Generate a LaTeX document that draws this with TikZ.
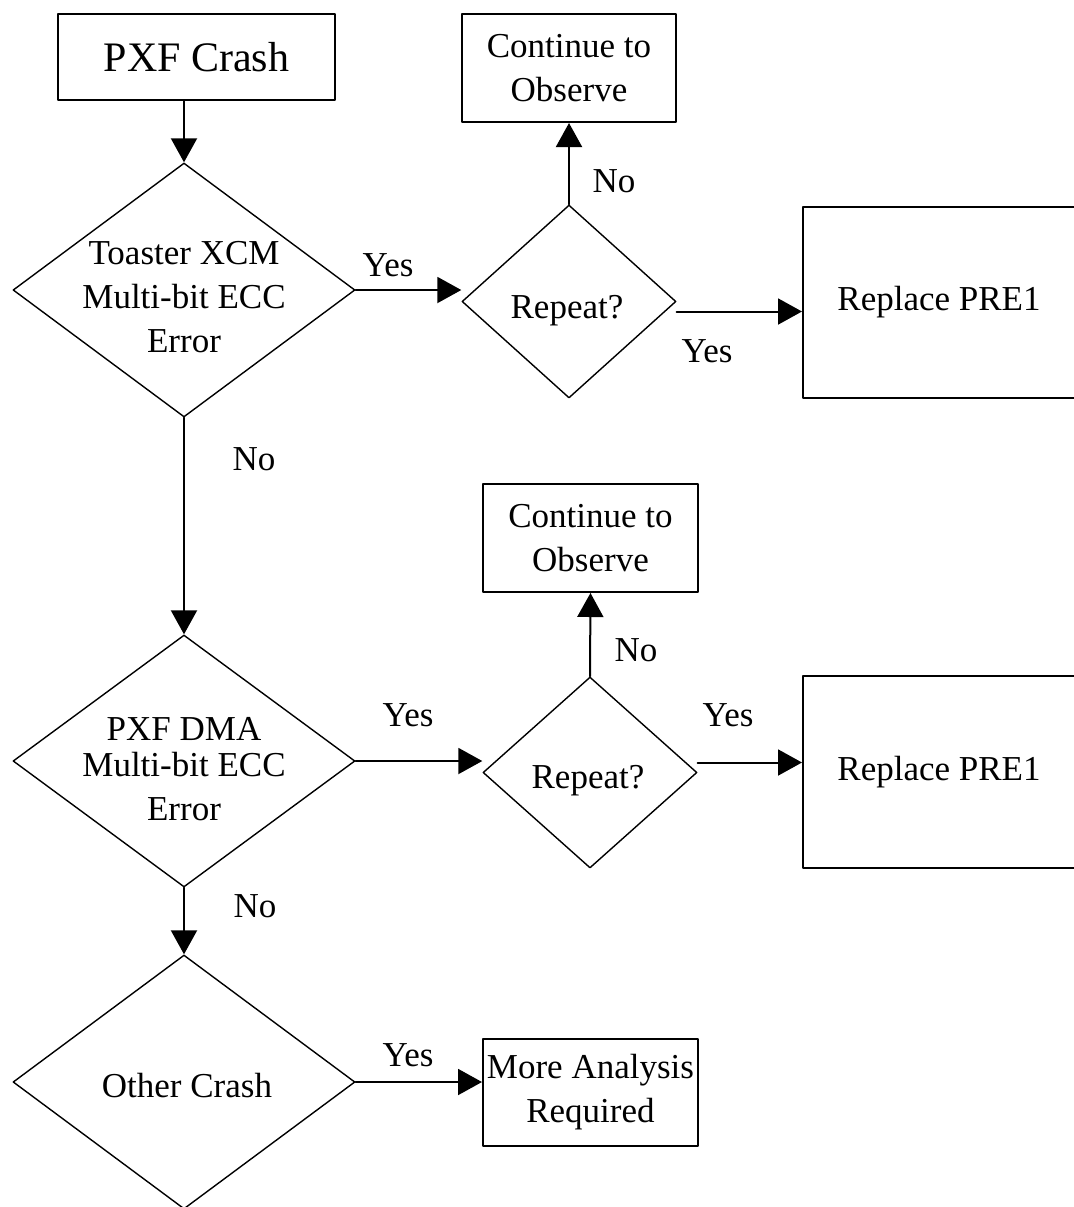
\documentclass[tikz,border=0pt]{standalone}
\usepackage{fontspec}
\setmainfont{Liberation Serif}
\usetikzlibrary{shapes.geometric,arrows.meta}

\begin{document}
\begin{tikzpicture}[x=0.5pt,y=-0.5pt, line join=round, line cap=round, >={Triangle[length=12pt,width=13pt]},
	font=\fontsize{17.5}{22}\selectfont,
	box/.style={draw,line width=1pt,inner sep=0pt,align=center},
	dia/.style={draw,diamond,line width=0.7pt,inner sep=0pt},
	txt/.style={inner sep=0pt,align=center}]
	\useasboundingbox (0,0) rectangle (1073,1207);
	% boxes
	\node[box,minimum width=138.5pt,minimum height=43pt,font=\fontsize{21}{25}\selectfont] (crash) at (196.5,57) {PXF Crash};
	\node[box,minimum width=107pt,minimum height=54pt] (obs1) at (569,68) {Continue to\\Observe};
	\node[box,minimum width=136pt,minimum height=95.5pt] (new1) at (939,302.5) {Replace PRE1};
	\node[box,minimum width=107.5pt,minimum height=54pt] (obs2) at (590.5,538) {Continue to\\Observe};
	\node[box,minimum width=136pt,minimum height=96pt] (new2) at (939,772) {Replace PRE1};
	\node[box,minimum width=107.5pt,minimum height=53.5pt] (more) at (590.5,1092.5) {More Analysis\\Required};
	% decisions
	\node[dia,minimum width=171pt,minimum height=127pt] (d1) at (184,290) {};
	\node[dia,minimum width=171pt,minimum height=126pt] (d2) at (184,761) {};
	\node[dia,minimum width=171pt,minimum height=127pt] (d3) at (184,1082) {};
	\node[dia,minimum width=107pt,minimum height=96.5pt] (rep1) at (569,301.5) {};
	\node[dia,minimum width=107pt,minimum height=95.5pt] (rep2) at (590,772.5) {};
	\node[txt] (t1) at (184,297) {Toaster XCM\\Multi-bit ECC\\Error};
	\node[txt] (t2) at (184,769) {PXF DMA\\[-4pt]Multi-bit ECC\\Error};
	\node[txt] (t3) at (187,1086) {Other Crash};
	\node[txt] (t4) at (567,311) {Repeat?};
	\node[txt] (t5) at (588,781) {Repeat?};
	% arrows
	\draw[->,line width=1pt] (crash.south -| d1.north) -- (d1.north);
	\draw[->,line width=1pt] (d1.south) -- (d2.north);
	\draw[->,line width=1pt] (d2.south) -- (d3.north);
	\draw[->,line width=1pt] (d1.east) -- (d1.east -| rep1.west);
	\draw[->,line width=1pt] (rep1.north) -- (obs1.south);
	\draw[->,line width=1pt] ([yshift=-5pt]rep1.east) -- ([yshift=-5pt]rep1.east -| new1.west);
	\draw[->,line width=1pt] (d2.east) -- (d2.east -| rep2.west);
	\draw[->,line width=1pt] (rep2.north) -- (obs2.south);
	\draw[->,line width=1pt] ([yshift=5pt]rep2.east) -- ([yshift=5pt]rep2.east -| new2.west);
	\draw[->,line width=1pt] (d3.east) -- (d3.east -| more.west);
	% yes / no
	\foreach \x/\y/\t [count=\i] in {388/265/Yes,614/181/No,707/351/Yes,254/459/No,408/715/Yes,636/650/No,728/715/Yes,255/906/No,408/1055/Yes}
		\node[txt] (lab\i) at (\x,\y) {\t};
\end{tikzpicture}
\end{document}
